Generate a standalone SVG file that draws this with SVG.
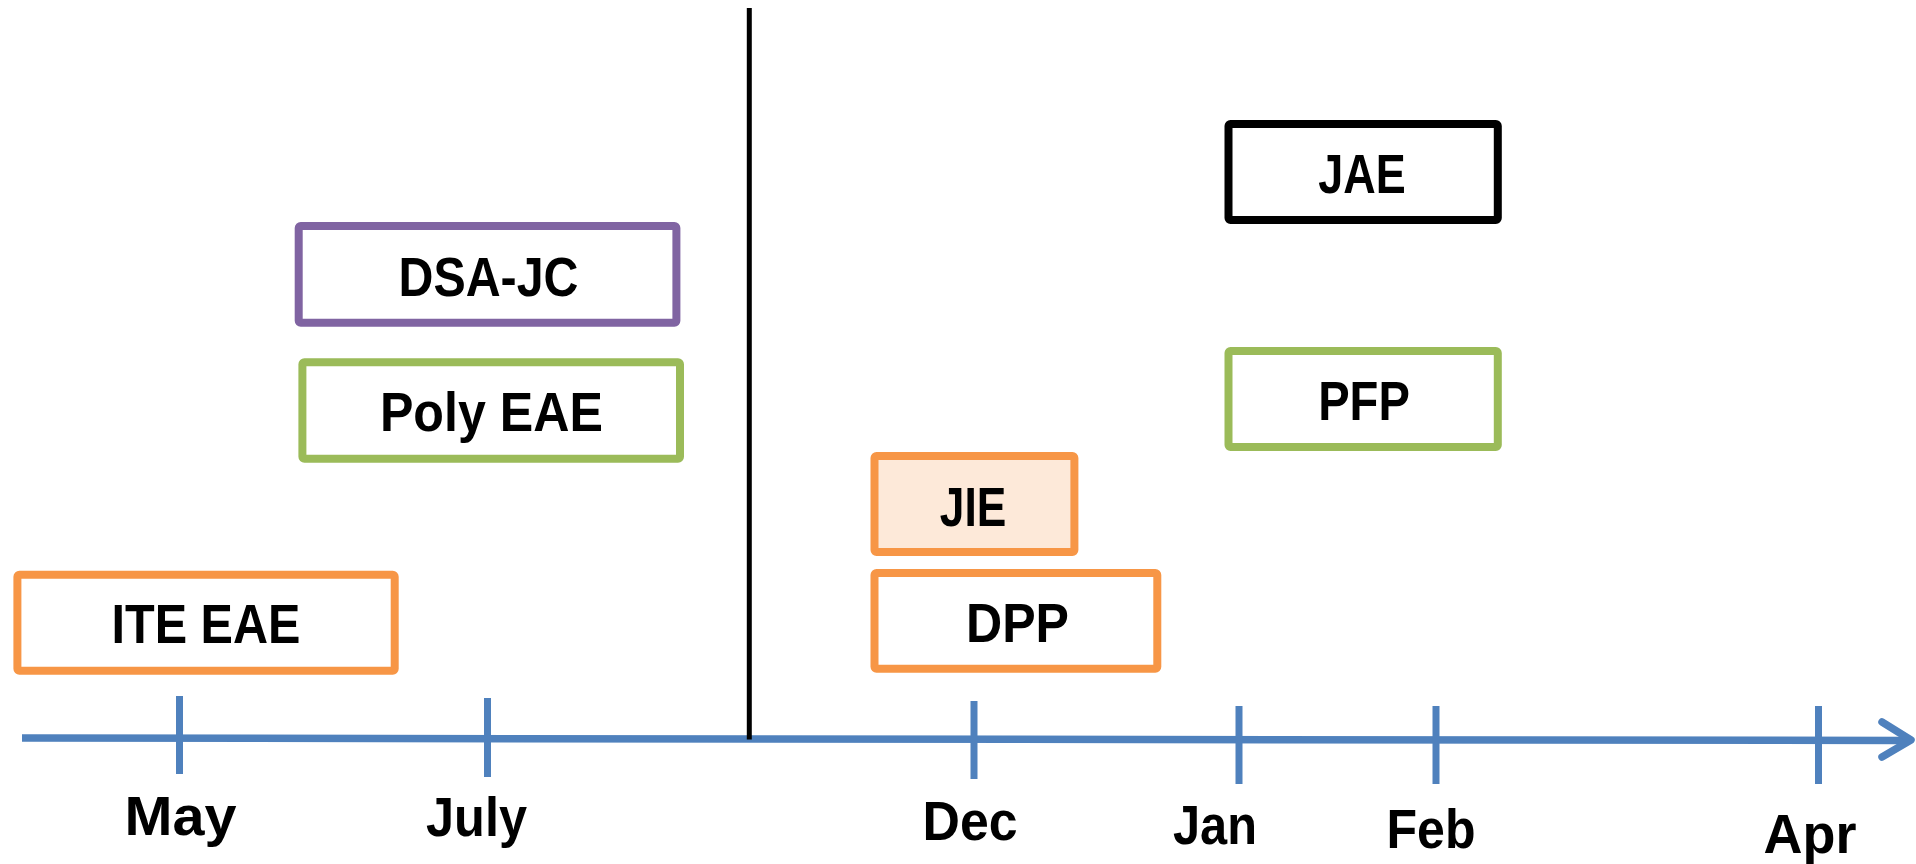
<svg xmlns="http://www.w3.org/2000/svg" width="1916" height="864" viewBox="0 0 1916 864">
<style>
.box{fill:#FFFFFF;stroke-width:8}
.orange{stroke:#F79646}
.purple{stroke:#8064A2}
.green{stroke:#9BBB59}
.black{stroke:#000000}
.lbl{font-family:"Liberation Sans",Arial,sans-serif;font-weight:bold;font-size:56px;fill:#000000;text-anchor:middle}
.axis{stroke:#4F81BD;stroke-width:7.5;fill:none}
.tick{stroke:#4F81BD;stroke-width:7;fill:none}
</style>
<rect width="1916" height="864" fill="#FFFFFF"/>
<g id="connectors">
<line class="axis" x1="22" y1="738" x2="1908" y2="740.5"/>
<path class="axis" d="M1882,722 L1911,740 L1882,757" stroke-linecap="round" stroke-linejoin="round"/>
<line class="tick" x1="179.5" y1="696" x2="179.5" y2="774"/>
<line class="tick" x1="487.5" y1="698" x2="487.5" y2="777"/>
<line class="tick" x1="974" y1="701" x2="974" y2="779"/>
<line class="tick" x1="1239" y1="706" x2="1239" y2="784"/>
<line class="tick" x1="1436" y1="706" x2="1436" y2="784"/>
<line class="tick" x1="1818.5" y1="706" x2="1818.5" y2="784"/>
<line id="divider" x1="749.3" y1="8" x2="749.3" y2="739.5" stroke="#000000" stroke-width="5"/>
</g>
<g id="axis-labels">
<text class="lbl" x="180.5" y="835" textLength="112" lengthAdjust="spacingAndGlyphs">May</text>
<text class="lbl" x="476.5" y="836" textLength="101" lengthAdjust="spacingAndGlyphs">July</text>
<text class="lbl" x="970" y="840" textLength="95" lengthAdjust="spacingAndGlyphs">Dec</text>
<text class="lbl" x="1215" y="844" textLength="84" lengthAdjust="spacingAndGlyphs">Jan</text>
<text class="lbl" x="1431" y="848" textLength="89" lengthAdjust="spacingAndGlyphs">Feb</text>
<text class="lbl" x="1810" y="853" textLength="93" lengthAdjust="spacingAndGlyphs">Apr</text>
</g>
<g id="ite-eae">
<rect class="box orange" x="17.4" y="574.7" width="377.3" height="96" rx="2"/>
<text class="lbl" x="206" y="643" textLength="189" lengthAdjust="spacingAndGlyphs">ITE EAE</text>
</g>
<g id="dsa-jc">
<rect class="box purple" x="298.7" y="226" width="377.7" height="96.7" rx="2"/>
<text class="lbl" x="488.5" y="296" textLength="180" lengthAdjust="spacingAndGlyphs">DSA-JC</text>
</g>
<g id="poly-eae">
<rect class="box green" x="302.4" y="362.3" width="377.6" height="96.4" rx="2"/>
<text class="lbl" x="491.4" y="431" textLength="223" lengthAdjust="spacingAndGlyphs">Poly EAE</text>
</g>
<g id="jae">
<rect class="box black" x="1228.5" y="124" width="269.3" height="96" rx="2"/>
<text class="lbl" x="1362" y="192.6" textLength="87.5" lengthAdjust="spacingAndGlyphs">JAE</text>
</g>
<g id="pfp">
<rect class="box green" x="1228.5" y="351" width="269.3" height="96" rx="2"/>
<text class="lbl" x="1364" y="420" textLength="91.7" lengthAdjust="spacingAndGlyphs">PFP</text>
</g>
<g id="jie">
<rect class="box orange" x="874.5" y="456" width="199.9" height="96" rx="2" style="fill:#FDE9D9"/>
<text class="lbl" x="973" y="526" textLength="66.5" lengthAdjust="spacingAndGlyphs">JIE</text>
</g>
<g id="dpp">
<rect class="box orange" x="874.5" y="573" width="282.8" height="95.7" rx="2"/>
<text class="lbl" x="1017.5" y="642" textLength="103" lengthAdjust="spacingAndGlyphs">DPP</text>
</g>
</svg>
